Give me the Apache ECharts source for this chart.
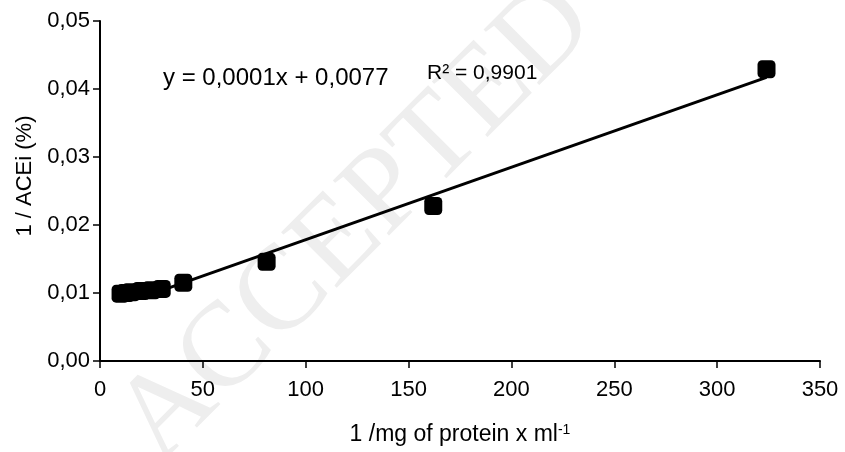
<!DOCTYPE html>
<html>
<head>
<meta charset="utf-8">
<script src="https://cdn.jsdelivr.net/npm/echarts@6/dist/echarts.min.js"></script>
<style>
  html, body { margin: 0; padding: 0; background: #fff; }
  #chart { width: 845px; height: 452px; }
</style>
</head>
<body>
<div id="chart"></div>
<script>
// measured points: 1/mg protein x ml-1 vs 1/ACEi
var xValues = [10, 12.5, 15, 20, 25, 30, 40.5, 81, 162, 324];
var yValues = [0.0099, 0.0100, 0.0101, 0.0103, 0.0104, 0.0106, 0.0115, 0.0146, 0.0228, 0.0429];
// trendline ends as drawn (left end hidden under the cluster)
var trendX = [18, 324];
var trendY = [0.0091, 0.0417];
var yTicks = [0, 0.01, 0.02, 0.03, 0.04, 0.05];
var xTicks = [0, 50, 100, 150, 200, 250, 300, 350];

var points = xValues.map(function(x, i){ return [x, yValues[i]]; });
var trend = trendX.map(function(x, i){ return [x, trendY[i]]; });

var font = 'Liberation Sans, Arial, sans-serif';
var chart = echarts.init(document.getElementById('chart'));

chart.setOption({
  animation: false,
  backgroundColor: '#fff',
  graphic: [{
    type: 'text',
    z: -10,
    x: 95, y: 400,
    rotation: Math.PI / 4,
    style: {
      text: 'ACCEPTED',
      font: '120px "Liberation Serif", serif',
      fill: '#eeeeee'
    },
    silent: true
  }, {
    type: 'text',
    x: 163, y: 78,
    style: { text: 'y = 0,0001x + 0,0077', font: '24px ' + font, fill: '#000', verticalAlign: 'middle' }
  }, {
    type: 'text',
    x: 427, y: 73,
    style: { text: 'R² = 0,9901', font: '21px ' + font, fill: '#000', verticalAlign: 'middle' }
  }],
  grid: { left: 100, right: 25, top: 21, bottom: 91 },
  xAxis: {
    type: 'value',
    min: xTicks[0], max: xTicks[xTicks.length - 1], interval: 50,
    name: '1 /mg of protein x ml{sup|-1}',
    nameLocation: 'middle',
    nameGap: 62,
    nameTextStyle: {
      color: '#000', fontSize: 23, fontFamily: font,
      rich: { sup: { fontSize: 14, verticalAlign: 'top', padding: [0, 0, 10, 0], color: '#000', fontFamily: font } }
    },
    axisLine: { lineStyle: { color: '#000', width: 2 } },
    axisTick: { length: 7, lineStyle: { color: '#000', width: 1.5 } },
    axisLabel: { color: '#000', fontSize: 22, fontFamily: font, margin: 18 },
    splitLine: { show: false }
  },
  yAxis: {
    type: 'value',
    min: yTicks[0], max: yTicks[yTicks.length - 1], interval: 0.01,
    name: '1 / ACEi (%)',
    nameLocation: 'middle',
    nameGap: 64,
    nameTextStyle: { color: '#000', fontSize: 22, fontFamily: font, padding: [0, 0, 0, 30] },
    axisLine: { show: true, lineStyle: { color: '#000', width: 2 } },
    axisTick: { show: true, length: 7, lineStyle: { color: '#000', width: 1.5 } },
    axisLabel: {
      color: '#000', fontSize: 22, fontFamily: font, margin: 10,
      formatter: function(v){ return v.toFixed(2).replace('.', ','); }
    },
    splitLine: { show: false }
  },
  series: [{
    type: 'line',
    data: trend,
    symbol: 'none',
    lineStyle: { color: '#000', width: 3 },
    z: 2
  }, {
    type: 'scatter',
    data: points,
    symbol: 'roundRect',
    symbolSize: 18,
    itemStyle: { color: '#000', opacity: 1 },
    z: 3
  }]
});
</script>
</body>
</html>
